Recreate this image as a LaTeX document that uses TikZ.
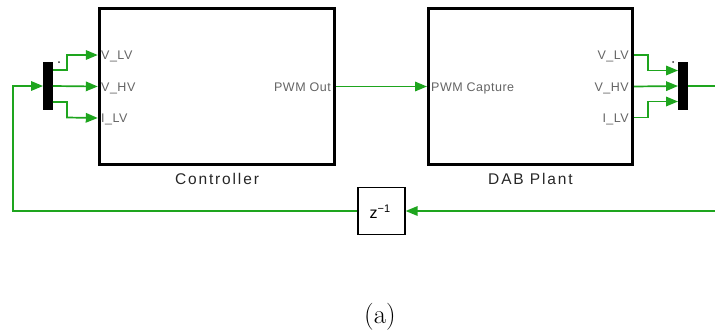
\documentclass[tikz,border=0pt]{standalone}
\usepackage{fontspec}
\newfontfamily\portfont{Liberation Sans}[LetterSpace=4.0]
\newfontfamily\capfont{Liberation Sans}[LetterSpace=12.0]
\newfontfamily\zfont{Liberation Sans}
\usetikzlibrary{arrows.meta,calc}
\definecolor{sig}{RGB}{30,165,30}
\definecolor{portgray}{RGB}{100,100,100}
\begin{document}
\begin{tikzpicture}[x=1pt,y=-1pt,
  sigline/.style={draw=sig, line width=1.7pt},
  sigarrow/.style={sigline, -{Triangle[length=12pt,width=9.5pt]}},
  bigblock/.style={draw=black, line width=2.8pt, minimum height=156.2pt, inner sep=0pt},
  busbar/.style={fill=black, draw=none, minimum width=9.5pt, minimum height=48pt, inner sep=0pt},
  delaybox/.style={draw=black, line width=1.2pt, minimum width=47pt, minimum height=47pt, inner sep=0pt},
  portlabel/.style={font=\portfont\fontsize{12.5}{14}\selectfont, text=portgray, inner sep=0pt},
  blocklabel/.style={font=\capfont\fontsize{15.5}{18}\selectfont, text=black!85, inner sep=0pt},
  caption/.style={font=\fontsize{27}{32}\selectfont, inner sep=0pt}
]
\useasboundingbox (0,0) rectangle (715,333);

% blocks
\node[bigblock, minimum width=235.2pt] (ctrl) at (216.8,86.5) {};
\node[bigblock, minimum width=204.2pt] (dab) at (530.5,86.5) {};
\node[busbar] (dmx) at (48,86) {};
\node[busbar] (mux) at (683,86) {};
\node[delaybox] (zd) at (381.5,211) {};
\node[font=\zfont\fontsize{16}{18}\selectfont, inner sep=0pt, anchor=base] (ztxt) at (380,218) {z\raisebox{6pt}{\fontsize{11}{12}\selectfont −1}};

% block labels
\node[blocklabel, anchor=base] (ctrllab) at (217,184) {Controller};
\node[blocklabel, anchor=base] (dablab) at (530.5,184) {DAB Plant};

% port labels
\node[portlabel, anchor=base west] (p1) at (101,59.5) {V\_LV};
\node[portlabel, anchor=base west] (p2) at (101,91) {V\_HV};
\node[portlabel, anchor=base west] (p3) at (101,122.5) {I\_LV};
\node[portlabel, anchor=base east] (p4) at (331,91) {PWM Out};
\node[portlabel, anchor=base west] (p5) at (431,91) {PWM Capture};
\node[portlabel, anchor=base east] (p6) at (629,59.5) {V\_LV};
\node[portlabel, anchor=base east] (p7) at (629,91) {V\_HV};
\node[portlabel, anchor=base east] (p8) at (629,122.5) {I\_LV};

% small dots above buses
\fill[black!80] (59,62) circle (1pt);
\fill[black!80] (673,62) circle (1pt);

% port coordinates
\coordinate (cin1) at ($(ctrl.west)+(0,-31.5)$);
\coordinate (cin2) at (ctrl.west);
\coordinate (cin3) at ($(ctrl.west)+(0,31.5)$);
\coordinate (dout1) at ($(dab.east)+(0,-31.5)$);
\coordinate (dout2) at (dab.east);
\coordinate (dout3) at ($(dab.east)+(0,31)$);
\coordinate (offA) at (722,86);
\coordinate (offB) at (722,211);
\coordinate (fbL) at (13,211);

% demux to controller
\draw[sigarrow] ($(dmx.east)+(0,-16)$) -| (67,55) -- (cin1);
\draw[sigarrow] (dmx.east) -- (cin2);
\draw[sigarrow] ($(dmx.east)+(0,16)$) -| (67,117.5) -- (cin3);

% controller to plant
\draw[sigarrow] (ctrl.east) -- (dab.west);

% plant to mux
\draw[sigarrow] (dout1) -| (648,70.5) -- ($(mux.west)+(0,-15.5)$);
\draw[sigarrow] (dout2) -- (mux.west);
\draw[sigarrow] (dout3) -| (648,101.5) -- ($(mux.west)+(0,15.5)$);

% feedback
\draw[sigarrow] (mux.east) -- (offA) -- (offB) -- (zd.east);
\draw[sigarrow] (zd.west) -- (fbL) |- (dmx.west);

% caption
\node[caption] (cap) at (380,317) {(a)};
\end{tikzpicture}
\end{document}
